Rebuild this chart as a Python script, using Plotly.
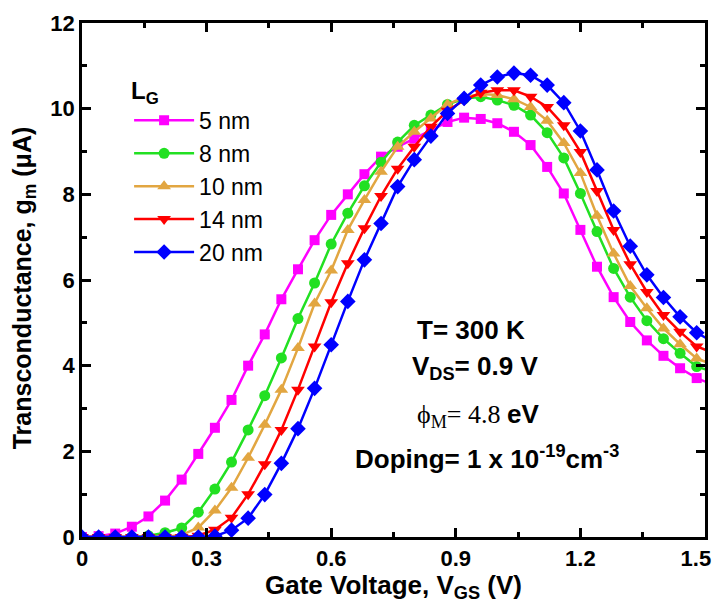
import plotly.graph_objects as go

gate_v = [0.00, 0.04, 0.08, 0.12, 0.16, 0.20, 0.24, 0.28, 0.32, 0.36, 0.40, 0.44, 0.48,
          0.52, 0.56, 0.60, 0.64, 0.68, 0.72, 0.76, 0.80, 0.84, 0.88, 0.92, 0.96, 1.00,
          1.04, 1.08, 1.12, 1.16, 1.20, 1.24, 1.28, 1.32, 1.36, 1.40, 1.44, 1.48, 1.52]

gm_5nm = [0, 0.02, 0.08, 0.24, 0.48, 0.85, 1.34, 1.94, 2.55, 3.2, 4.0, 4.73, 5.55, 6.25,
          6.93, 7.52, 8.0, 8.47, 8.88, 9.11, 9.3, 9.5, 9.69, 9.79, 9.76, 9.66, 9.46, 9.15,
          8.64, 8.02, 7.17, 6.31, 5.6, 5.02, 4.59, 4.23, 3.94, 3.71, 3.55]
gm_8nm = [0, 0, 0, 0, 0.03, 0.1, 0.21, 0.58, 1.12, 1.75, 2.5, 3.3, 4.18, 5.1, 5.93, 6.84,
          7.56, 8.2, 8.75, 9.22, 9.61, 9.85, 10.1, 10.23, 10.28, 10.2, 10.08, 9.85, 9.44,
          8.85, 8.02, 7.13, 6.27, 5.6, 5.05, 4.63, 4.29, 3.98, 3.85]
gm_10nm = [0, 0, 0, 0, 0, 0, 0.05, 0.22, 0.62, 1.15, 1.85, 2.62, 3.44, 4.41, 5.45, 6.22,
           7.17, 7.87, 8.53, 9.11, 9.46, 9.77, 10.1, 10.27, 10.34, 10.32, 10.22, 10.04,
           9.72, 9.2, 8.5, 7.5, 6.62, 5.86, 5.34, 4.87, 4.5, 4.17, 4.02]
gm_14nm = [0, 0, 0, 0, 0, 0, 0, 0.03, 0.17, 0.45, 1.0, 1.7, 2.5, 3.44, 4.45, 5.48, 6.39,
           7.21, 7.96, 8.6, 9.11, 9.58, 9.95, 10.2, 10.37, 10.43, 10.43, 10.28, 10.04,
           9.61, 8.99, 8.08, 7.17, 6.37, 5.72, 5.18, 4.79, 4.45, 4.3]
gm_20nm = [0, 0, 0, 0, 0, 0, 0, 0, 0.02, 0.16, 0.44, 0.99, 1.72, 2.53, 3.47, 4.49, 5.5,
           6.47, 7.32, 8.18, 8.81, 9.36, 9.89, 10.24, 10.55, 10.74, 10.83, 10.78, 10.55,
           10.14, 9.48, 8.57, 7.61, 6.79, 6.12, 5.59, 5.14, 4.77, 4.55]

series_names = ["5 nm", "8 nm", "10 nm", "14 nm", "20 nm"]
series_vals = [gm_5nm, gm_8nm, gm_10nm, gm_14nm, gm_20nm]
colors = ["#FF00FF", "#22E022", "#E2A641", "#FF0000", "#0000FF"]
symbols = ["square", "circle", "triangle-up", "triangle-down", "diamond"]
sizes = [10, 11, 12, 12, 12]

x_ticks = [0, 0.3, 0.6, 0.9, 1.2, 1.5]
# the last label is nudged left slightly so that it is not cut at the page edge
x_tick_labels = ["0", "0.3", "0.6", "0.9", "1.2", "1.5\u00a0\u00a0\u00a0"]
y_ticks = [0, 2, 4, 6, 8, 10, 12]

FONT = "Arial, Liberation Sans, sans-serif"

fig = go.Figure()
for i, (name, vals) in enumerate(zip(series_names, series_vals)):
    fig.add_trace(go.Scatter(
        x=gate_v, y=vals, name=name, mode="lines+markers",
        legendgroup="g%d" % i,
        line=dict(color=colors[i], width=2.5),
        marker=dict(symbol=symbols[i], size=sizes[i], color=colors[i]),
        cliponaxis=True,
    ))

axis_common = dict(
    showline=True, linecolor="black", linewidth=2.5, mirror="allticks",
    ticks="inside", ticklen=9, tickwidth=2.5, tickcolor="black",
    showgrid=False, zeroline=False, automargin=False, ticklabeloverflow="allow",
    tickfont=dict(family=FONT, size=22, color="black", weight="bold"),
)

fig.update_xaxes(
    range=[0, 1.5], tickvals=x_ticks, ticktext=x_tick_labels,
    minor=dict(dtick=0.15, ticks="inside", ticklen=5, tickwidth=2.5, tickcolor="black"),
    title=dict(text="<b>Gate Voltage, V<sub>GS</sub> (V)</b>",
               font=dict(family=FONT, size=26, color="black"), standoff=2),
    **axis_common,
)
fig.update_yaxes(
    range=[0, 12], tickvals=y_ticks,
    minor=dict(dtick=1, ticks="inside", ticklen=5, tickwidth=2.5, tickcolor="black"),
    **axis_common,
)

# y-axis title placed as a rotated annotation so it can sit further left
fig.add_annotation(xref="paper", yref="paper", x=-0.093, y=0.484,
                   xanchor="center", yanchor="middle", textangle=-90, showarrow=False,
                   text="<b>Transconductance, g<sub>m</sub> (\u03bcA)</b>",
                   font=dict(family=FONT, size=25, color="black"))

ann_font = dict(family=FONT, size=26, color="black")
serif = "font-family:'Times New Roman', 'Liberation Serif', serif;font-weight:normal"
annotations = [
    dict(x=0.937, y=4.84, text="<b>T= 300 K</b>"),
    dict(x=0.947, y=3.95, text="<b>V<sub>DS</sub>= 0.9 V</b>"),
    dict(x=0.954, y=2.83,
         text="<span style=\"%s\">\u03d5<sub>M</sub>= 4.8 </span><b>eV</b>" % serif),
    dict(x=0.976, y=1.85, text="<b>Doping= 1 x 10<sup>-19</sup>cm<sup>-3</sup></b>"),
]
for a in annotations:
    fig.add_annotation(xref="x", yref="y", showarrow=False, font=ann_font,
                       xanchor="center", yanchor="middle", **a)

# the page body has an 8px margin, so the figure is sized and offset for it
fig.update_layout(
    width=714, height=595,
    margin=dict(l=74, r=17, t=15, b=66),
    paper_bgcolor="white", plot_bgcolor="white",
    showlegend=True,
    legend=dict(
        x=0.0756, y=0.913, xanchor="left", yanchor="top",
        bgcolor="rgba(0,0,0,0)", borderwidth=0,
        title=dict(text="<b>L<sub>G</sub></b>", font=dict(family=FONT, size=24, color="black")),
        font=dict(family=FONT, size=23, color="black"),
        traceorder="grouped", tracegroupgap=0, itemwidth=60,
    ),
)

fig.write_html("out.html")
